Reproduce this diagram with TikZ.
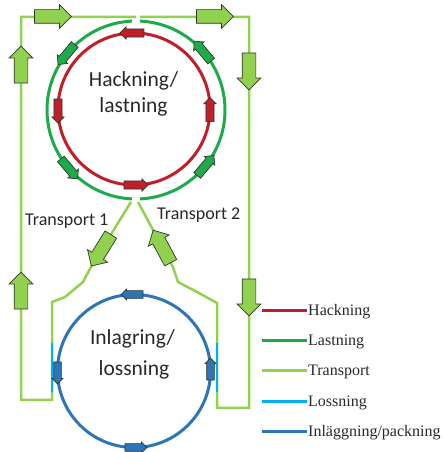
\documentclass[tikz,border=0pt]{standalone}
\usepackage{fontspec}
\setmainfont{Liberation Serif}
\newfontfamily\calib{Carlito}
\usetikzlibrary{shapes.arrows}
\definecolor{hred}{RGB}{192,30,40}
\definecolor{lgreen}{RGB}{30,170,75}
\definecolor{tgreen}{RGB}{146,208,80}
\definecolor{lblue}{RGB}{0,176,240}
\definecolor{dblue}{RGB}{46,117,182}
\definecolor{aline}{RGB}{45,55,40}
\definecolor{txt}{RGB}{40,40,40}
\begin{document}
\begin{tikzpicture}[x=1pt,y=1pt,
  flow/.style={line width=2.5pt, draw=tgreen, line join=miter},
  ring/.style={line width=3pt},
  blk/.style={single arrow, draw=aline, line width=0.7pt, minimum width=0pt,
    inner xsep=0pt, single arrow tip angle=90, outer sep=0pt},
  bigarr/.style={blk, fill=tgreen, minimum height=37pt, inner ysep=6.5pt, single arrow head extend=5pt},
  redarr/.style={blk, fill=hred, minimum height=24pt, inner ysep=3.7pt, single arrow head extend=2pt},
  grnarr/.style={blk, fill=lgreen, minimum height=26pt, inner ysep=4pt, single arrow head extend=2.5pt},
  bluarr/.style={blk, fill=dblue, minimum height=22pt, inner ysep=3.5pt, single arrow head extend=1.5pt},
  bigtxt/.style={font=\calib\fontsize{21.5}{26}\selectfont, text=txt, inner sep=0pt, anchor=base},
  trtxt/.style={font=\calib\fontsize{18}{22}\selectfont, text=txt, inner sep=0pt, anchor=base west},
  legtxt/.style={font=\fontsize{16}{19}\selectfont, text=txt, inner sep=0pt, anchor=base west},
  legline/.style={line width=3pt}
]
\useasboundingbox (0,0) rectangle (444,452);

% centres
\coordinate (gc) at (136,342);
\coordinate (rc) at (134,343);
\coordinate (bc) at (134,81);

% rings
\draw[ring, lgreen] ([shift={(-87.5:89)}]gc) arc[start angle=-87.5, end angle=87.5, radius=89];
\draw[ring, lgreen] ([shift={(92.5:89)}]gc) arc[start angle=92.5, end angle=267.5, radius=89];
\draw[ring, hred] (rc) circle[radius=76];
\draw[ring, dblue] (bc) circle[radius=76.5];

% transport path coordinates
\coordinate (L0) at (136,435);
\coordinate (L1) at (21,435);
\coordinate (L2) at (21,52);
\coordinate (L3) at (52,52);
\coordinate (L4) at (52,150);
\coordinate (L5) at (65,155);
\coordinate (L6) at (83,170);
\coordinate (L7) at (92,187);
\coordinate (L8) at (131,250);
\coordinate (R0) at (140,435);
\coordinate (R1) at (249,435);
\coordinate (R2) at (249,44);
\coordinate (R3) at (217,44);
\coordinate (R4) at (217,149);
\coordinate (R5) at (197,160);
\coordinate (R6) at (178,170);
\coordinate (R7) at (173,185);
\coordinate (R8) at (138,250);

\draw[flow] (L0) -- (L1) -- (L2) -- (L3) -- (L4) -- (L5) -- (L6) -- (L7) -- (L8);
\draw[flow] (R0) -- (R1) -- (R2) -- (R3) -- (R4) -- (R5) -- (R6) -- (R7) -- (R8);

% lossning segments
\coordinate (LB1) at (52,109);
\coordinate (LB2) at (52,60);
\coordinate (RB1) at (217,109);
\coordinate (RB2) at (217,60);
\draw[line width=2.8pt, lblue] (LB1) -- (LB2);
\draw[line width=2.8pt, lblue] (RB1) -- (RB2);

% big transport arrows
\node[bigarr] (a1) at (49.5,435.5) {};
\node[bigarr] (a2) at (211.5,435.5) {};
\node[bigarr, rotate=-90] (a3) at (249,384) {};
\node[bigarr, rotate=-90] (a4) at (249,158) {};
\node[bigarr, rotate=90] (a5) at (21,384) {};
\node[bigarr, rotate=90] (a6) at (21,158) {};
\path (L8) -- (L7) node[bigarr, sloped, allow upside down, pos=0.72] (a7) {};
\path (R7) -- (R8) node[bigarr, sloped, allow upside down, pos=0.27] (a8) {};

% green small arrows
\node[grnarr, rotate=230] (g1) at ([shift={(140:89)}]gc) {};
\node[grnarr, rotate=130] (g2) at ([shift={(40:89)}]gc) {};
\node[grnarr, rotate=310] (g3) at ([shift={(220:89)}]gc) {};
\node[grnarr, rotate=50]  (g4) at ([shift={(320:89)}]gc) {};

% red arrows
\node[redarr, rotate=180] (r1) at ([shift={(90:76)}]rc) {};
\node[redarr, rotate=270] (r2) at ([shift={(180:76)}]rc) {};
\node[redarr, rotate=0]   (r3) at ([shift={(270:76)}]rc) {};
\node[redarr, rotate=90]  (r4) at ([shift={(-2:76)}]rc) {};

% blue arrows
\node[bluarr, rotate=180] (b1) at ([shift={(90:76.5)}]bc) {};
\node[bluarr, rotate=270] (b2) at ([shift={(180:76.5)}]bc) {};
\node[bluarr, rotate=0]   (b3) at ([shift={(270:76.5)}]bc) {};
\node[bluarr, rotate=90]  (b4) at ([shift={(0:76.5)}]bc) {};

% texts
\node[bigtxt] (h1) at (133.5,365) {Hackning/};
\node[bigtxt] (h2) at (133.5,339) {lastning};
\node[bigtxt] (i1) at (132.5,107) {Inlagring/};
\node[bigtxt] (i2) at (134,76) {lossning};
\node[trtxt] (t1) at (25,226) {Transport 1};
\node[trtxt] (t2) at (157,232) {Transport 2};

% legend
\coordinate (k1a) at (262,141); \coordinate (k1b) at (307,141);
\coordinate (k2a) at (262,111); \coordinate (k2b) at (307,111);
\coordinate (k3a) at (262,81);  \coordinate (k3b) at (307,81);
\coordinate (k4a) at (262,50);  \coordinate (k4b) at (307,50);
\coordinate (k5a) at (262,20);  \coordinate (k5b) at (307,20);
\draw[legline, hred] (k1a) -- (k1b);
\draw[legline, lgreen] (k2a) -- (k2b);
\draw[legline, tgreen] (k3a) -- (k3b);
\draw[legline, lblue] (k4a) -- (k4b);
\draw[legline, dblue] (k5a) -- (k5b);
\node[legtxt] (e1) at ([shift={(1,-4.5)}]k1b) {Hackning};
\node[legtxt] (e2) at ([shift={(1,-4.5)}]k2b) {Lastning};
\node[legtxt] (e3) at ([shift={(1,-4.5)}]k3b) {Transport};
\node[legtxt] (e4) at ([shift={(1,-4.5)}]k4b) {Lossning};
\node[legtxt] (e5) at ([shift={(1,-4.5)}]k5b) {Inläggning/packning};
\end{tikzpicture}
\end{document}
